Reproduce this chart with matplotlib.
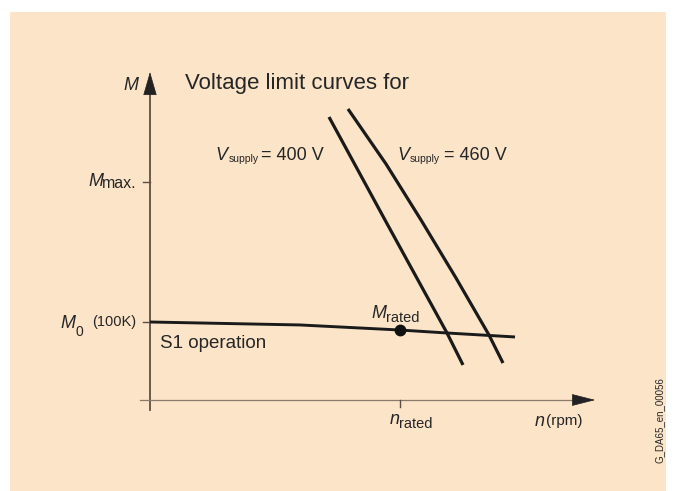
import matplotlib
matplotlib.use("Agg")
import matplotlib.pyplot as plt
from matplotlib.patches import Rectangle

plt.rcParams['font.family'] = ['Liberation Sans', 'DejaVu Sans']

# speed in units of n_rated, torque in units of M0
n_400 = [0.716, 0.94, 1.188, 1.252]
m_400 = [3.628, 2.308, 0.859, 0.449]
n_460 = [0.792, 0.944, 1.084, 1.224, 1.356, 1.412]
m_460 = [3.731, 3.026, 2.308, 1.564, 0.833, 0.474]
n_s1 = [0.0, 0.6, 0.76, 1.0, 1.188, 1.46]
m_s1 = [1.0, 0.962, 0.936, 0.897, 0.859, 0.808]
n_rated, m_rated = 1.0, 0.897
m_max = 2.795
m_0 = 1.0

W, H = 676, 491
BG = '#fbe4c8'
INK = '#262626'
AXC = '#5e4e42'

fig = plt.figure(figsize=(W / 100, H / 100), dpi=100)
fig.patch.set_facecolor('white')
fig.patches.append(Rectangle((10 / W, 0), 656 / W, 1 - 12 / H,
                             transform=fig.transFigure, facecolor=BG,
                             edgecolor='none', zorder=-5))

ax = fig.add_axes([0, 0, 1, 1])
ax.patch.set_alpha(0)
ax.set_xlim(-0.6, 2.104)
ax.set_ylim(-1.1667, 5.128)
ax.axis('off')


def at(x, y):
    # pixel position -> figure fraction
    return x / W, 1 - y / H


# axes with arrow heads
ax.plot([0, 0], [-0.13, 4.0], color=AXC, lw=1.3, zorder=2)
ax.plot([-0.04, 1.72], [0, 0], color='#8a7a6c', lw=0.9, zorder=2)
ax.annotate('', xy=(0, 4.24), xytext=(0, 3.95),
            arrowprops=dict(arrowstyle='-|>,head_length=1.1,head_width=0.32',
                            color='#222222', lw=0.5, mutation_scale=14))
ax.annotate('', xy=(1.792, 0), xytext=(1.70, 0),
            arrowprops=dict(arrowstyle='-|>,head_length=1.1,head_width=0.28',
                            color='#222222', lw=0.5, mutation_scale=14))

# ticks
ax.plot([-0.028, 0], [m_max, m_max], color=AXC, lw=1.0)
ax.plot([-0.028, 0], [m_0, m_0], color=AXC, lw=1.0)
ax.plot([n_rated, n_rated], [0, -0.09], color=AXC, lw=1.0)

# curves
ax.plot(n_400, m_400, color='#1a1a1a', lw=2.3, solid_capstyle='butt',
        solid_joinstyle='round', zorder=3)
ax.plot(n_460, m_460, color='#1a1a1a', lw=2.3, solid_capstyle='butt',
        solid_joinstyle='round', zorder=3)
ax.plot(n_s1, m_s1, color='#1a1a1a', lw=2.1, solid_capstyle='butt',
        solid_joinstyle='round', zorder=3)
ax.plot([n_rated], [m_rated], 'o', color='#111111', ms=7.5, zorder=4)

# labels
fig.text(*at(138, 85), 'M', style='italic', fontsize=13, color=INK,
         ha='right', va='center')
fig.text(*at(185, 83), 'Voltage limit curves for', fontsize=16,
         color=INK, ha='left', va='center')

fig.text(*at(215, 155), 'V', style='italic', fontsize=13, color=INK,
         ha='left', va='center')
fig.text(*at(229, 159), 'supply', fontsize=7.5, color=INK, ha='left',
         va='center')
fig.text(*at(261, 155), '= 400 V', fontsize=13, color=INK, ha='left',
         va='center')

fig.text(*at(397, 155), 'V', style='italic', fontsize=13, color=INK,
         ha='left', va='center')
fig.text(*at(410, 159), 'supply', fontsize=7.5, color=INK, ha='left',
         va='center')
fig.text(*at(444, 155), '= 460 V', fontsize=13, color=INK, ha='left',
         va='center')

fig.text(*at(88, 182), 'M', style='italic', fontsize=13, color=INK,
         ha='left', va='center')
fig.text(*at(102, 184), 'max.', fontsize=11.5, color=INK, ha='left',
         va='center')

fig.text(*at(60, 323), 'M', style='italic', fontsize=13, color=INK,
         ha='left', va='center')
fig.text(*at(75, 332), '0', fontsize=10, color=INK, ha='left', va='center')
fig.text(*at(92, 322), '(100K)', fontsize=10.5, color=INK, ha='left',
         va='center')

fig.text(*at(160, 343), 'S1 operation', fontsize=13.5, color=INK,
         ha='left', va='center')

fig.text(*at(371, 313), 'M', style='italic', fontsize=13, color=INK,
         ha='left', va='center')
fig.text(*at(386, 318), 'rated', fontsize=10.5, color=INK, ha='left',
         va='center')

fig.text(*at(390, 420), 'n', style='italic', fontsize=13, color=INK,
         ha='left', va='center')
fig.text(*at(399, 424), 'rated', fontsize=10.5, color=INK, ha='left',
         va='center')

fig.text(*at(535, 421), 'n', style='italic', fontsize=13, color=INK,
         ha='left', va='center')
fig.text(*at(546, 421), '(rpm)', fontsize=11, color=INK, ha='left',
         va='center')

fig.text(*at(660, 420), 'G_DA65_en_00056', fontsize=7, color=INK,
         rotation=90, ha='center', va='center')

fig.savefig('out.png', dpi=100, facecolor=fig.get_facecolor())
